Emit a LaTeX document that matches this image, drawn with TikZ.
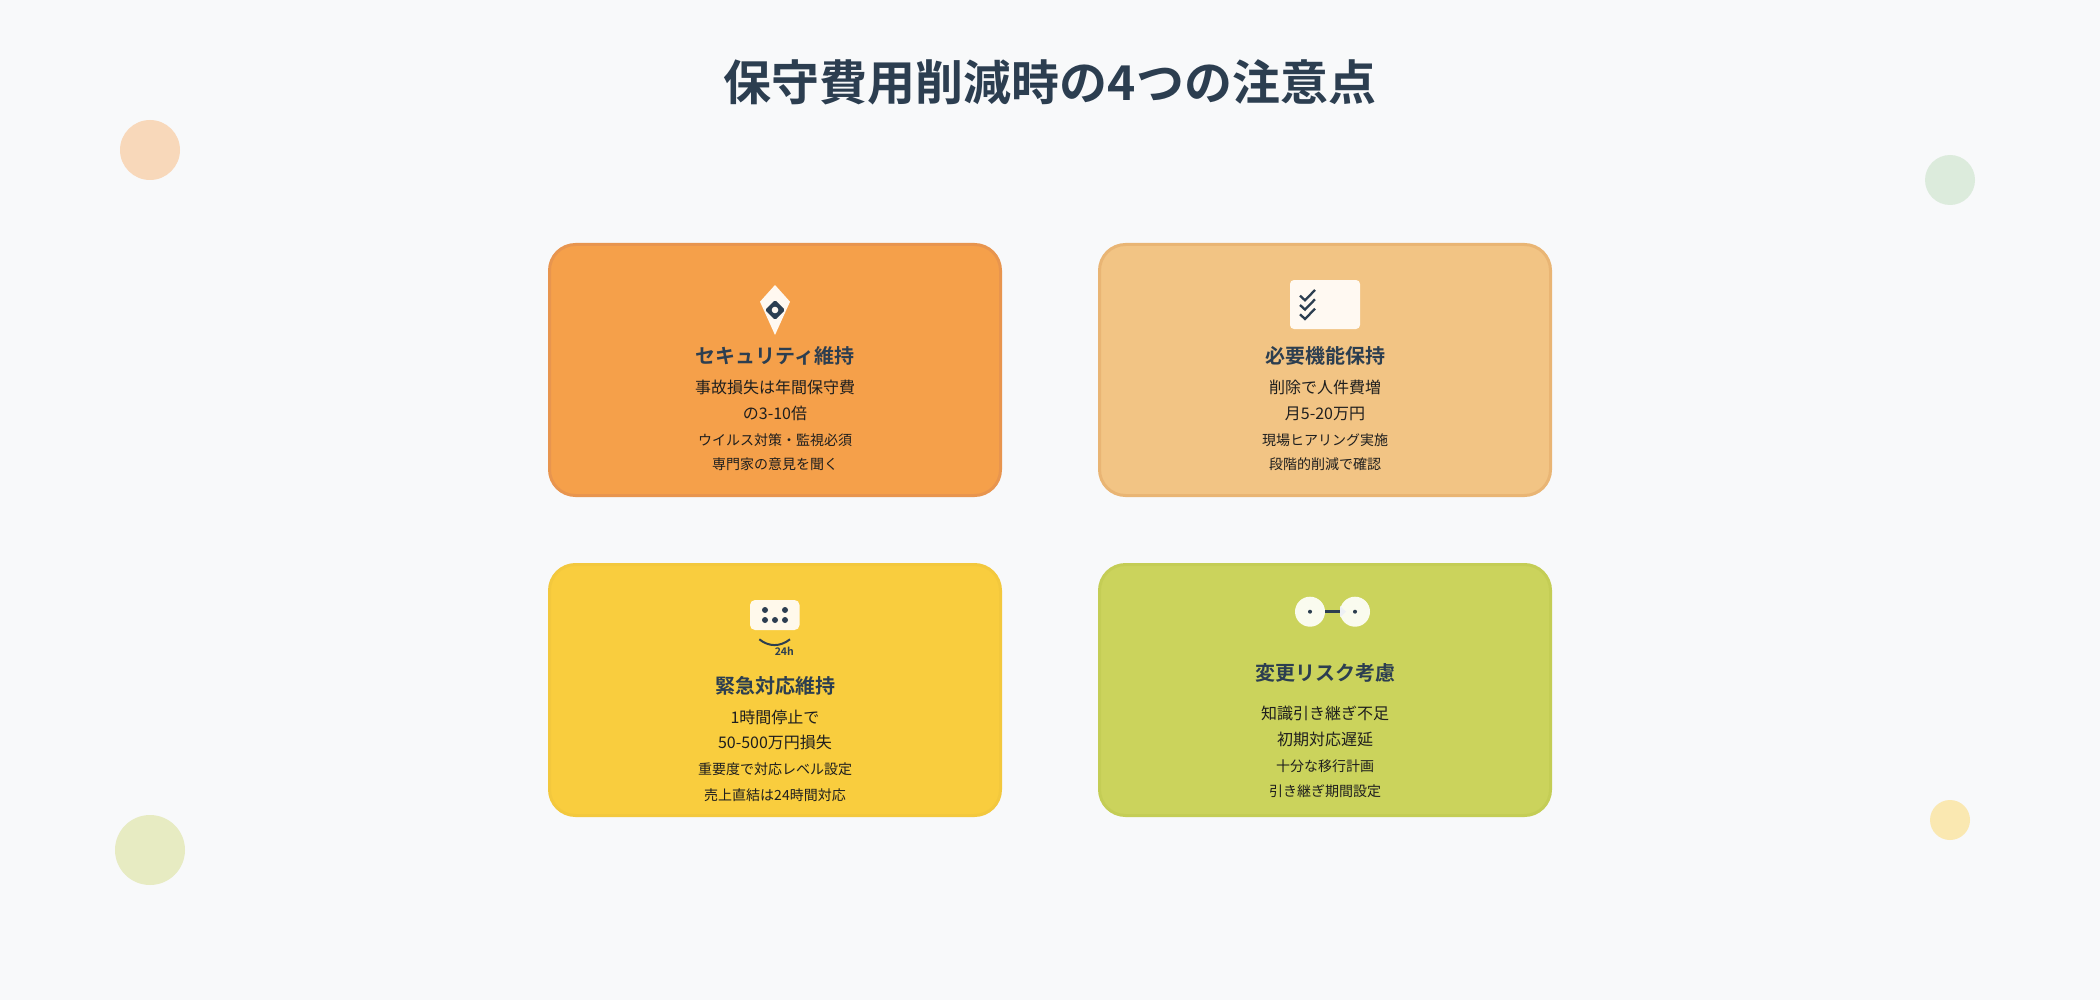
\documentclass[tikz,border=0pt]{standalone}
\usepackage{fontspec}
\setmainfont{Noto Sans CJK JP}[BoldFont={Noto Sans CJK JP Bold}]
\definecolor{bg}{HTML}{F8F9FA}
\definecolor{navy}{HTML}{2C3E50}
\definecolor{ink}{HTML}{1E1E1E}
\definecolor{cAf}{HTML}{F5A04A}\definecolor{cAd}{HTML}{E8954E}
\definecolor{cBf}{HTML}{F2C484}\definecolor{cBd}{HTML}{E9B574}
\definecolor{cCf}{HTML}{F9CD3E}\definecolor{cCd}{HTML}{F3C83D}
\definecolor{cDf}{HTML}{CBD35C}\definecolor{cDd}{HTML}{C4CD55}
\definecolor{dotA}{HTML}{F8D8BA}\definecolor{dotB}{HTML}{DCEBDC}
\definecolor{dotC}{HTML}{E7EBC2}\definecolor{dotD}{HTML}{FAE8B1}
\definecolor{offA}{HTML}{FFF8F0}\definecolor{offB}{HTML}{FFF9F2}
\definecolor{offC}{HTML}{FFF9EB}\definecolor{offD}{HTML}{FAFBEF}
\definecolor{arrowlt}{HTML}{EEF1F5}
\tikzset{
  card/.style={rounded corners=26pt, line width=3pt, minimum width=451pt, minimum height=251pt, inner sep=0pt},
  cardtitle/.style={font=\fontsize{20}{24}\selectfont\bfseries, text=navy, inner sep=0pt, text height=17pt, text depth=3pt},
  bodybig/.style={font=\fontsize{16}{20}\selectfont, text=ink, inner sep=0pt, text height=13.6pt, text depth=2.4pt},
  bodysmall/.style={font=\fontsize{14}{18}\selectfont, text=ink, inner sep=0pt, text height=11.9pt, text depth=2.1pt},
  deco/.style={draw=none, circle, inner sep=0pt}
}
\begin{document}
\begin{tikzpicture}[x=1pt, y=-1pt]
\useasboundingbox (0,0) rectangle (2100,1000);
\fill[bg] (0,0) rectangle (2100,1000);
% decorative circles
\node[deco, fill=dotA, minimum size=60pt] (d1) at (150,150) {};
\node[deco, fill=dotB, minimum size=50pt] (d2) at (1950,180) {};
\node[deco, fill=dotC, minimum size=70pt] (d3) at (150,850) {};
\node[deco, fill=dotD, minimum size=40pt] (d4) at (1950,820) {};
% title
\node[font=\fontsize{48}{56}\selectfont\bfseries, text=navy, inner sep=0pt, text height=40.8pt, text depth=7.2pt] (title) at (1050,84) {保守費用削減時の4つの注意点};
% cards
\node[card, fill=cAf, draw=cAd] (c1) at (775,370) {};
\node[card, fill=cBf, draw=cBd] (c2) at (1325,370) {};
\node[card, fill=cCf, draw=cCd] (c3) at (775,690) {};
\node[card, fill=cDf, draw=cDd] (c4) at (1325,690) {};
% card 1 icon: kite shield
\fill[offA] (775,285) -- (760,301.7) -- (775,335) -- (790,301.7) -- cycle;
\fill[navy, rounded corners=1.5pt] (775,300) -- (785,310) -- (775,320) -- (765,310) -- cycle;
\fill[offA] (775,310) circle (3.3pt);
% card 1 text
\node[cardtitle] (t1) at (775,356.7) {セキュリティ維持};
\node[bodybig] (t1a) at (775,388) {事故損失は年間保守費};
\node[bodybig] (t1b) at (775,414) {の3-10倍};
\node[bodysmall] (t1c) at (775,440.7) {ウイルス対策・監視必須};
\node[bodysmall] (t1d) at (775,465) {専門家の意見を聞く};
% card 2 icon: checklist
\fill[offB, rounded corners=4pt] (1290,280) rectangle (1360,329);
\begin{scope}[draw=navy, line width=2.3pt, line join=miter]
\draw (1300,295.7) -- (1305,300.3) -- (1315,290);
\draw (1300,305) -- (1305,309.6) -- (1315,299.3);
\draw (1300,314.3) -- (1305,319) -- (1315,308.7);
\end{scope}
% card 2 text
\node[cardtitle] (t2) at (1325,356.7) {必要機能保持};
\node[bodybig] (t2a) at (1325,388) {削除で人件費増};
\node[bodybig] (t2b) at (1325,414) {月5-20万円};
\node[bodysmall] (t2c) at (1325,440.7) {現場ヒアリング実施};
\node[bodysmall] (t2d) at (1325,465) {段階的削減で確認};
% card 3 icon: 24h support
\fill[offC, rounded corners=5pt] (750,600) rectangle (799.5,630);
\foreach \p in {(765,610),(785,610),(765,620),(775,620),(785,620)} \fill[navy] \p circle (3pt);
\draw[navy, line width=2pt] (759.3,639.3) .. controls (769,647) and (780,647) .. (790,639.3);
\node[font=\fontsize{10.5}{12}\selectfont\bfseries, text=navy, inner sep=0pt] (h24) at (784.3,651) {24h};
% card 3 text
\node[cardtitle] (t3) at (775,686.7) {緊急対応維持};
\node[bodybig] (t3a) at (775,718.3) {1時間停止で};
\node[bodybig] (t3b) at (775,743.3) {50-500万円損失};
\node[bodysmall] (t3c) at (775,770) {重要度で対応レベル設定};
\node[bodysmall] (t3d) at (775,795.7) {売上直結は24時間対応};
% card 4 icon: handover
\node[deco, fill=offD, minimum size=30pt] (g1) at (1310,611.7) {};
\node[deco, fill=offD, minimum size=30pt] (g2) at (1355,611.7) {};
\draw[navy, line width=2.7pt] (g1.east) -- (g2.west);
\fill[arrowlt] (1340,606) -- (1346,611.7) -- (1340,617.4) -- cycle;
\fill[navy] (g1.center) circle (2pt);
\fill[navy] (g2.center) circle (2pt);
% card 4 text
\node[cardtitle] (t4) at (1325,673.3) {変更リスク考慮};
\node[bodybig] (t4a) at (1325,714.3) {知識引き継ぎ不足};
\node[bodybig] (t4b) at (1325,740) {初期対応遅延};
\node[bodysmall] (t4c) at (1325,766.7) {十分な移行計画};
\node[bodysmall] (t4d) at (1325,791.7) {引き継ぎ期間設定};
\end{tikzpicture}
\end{document}
